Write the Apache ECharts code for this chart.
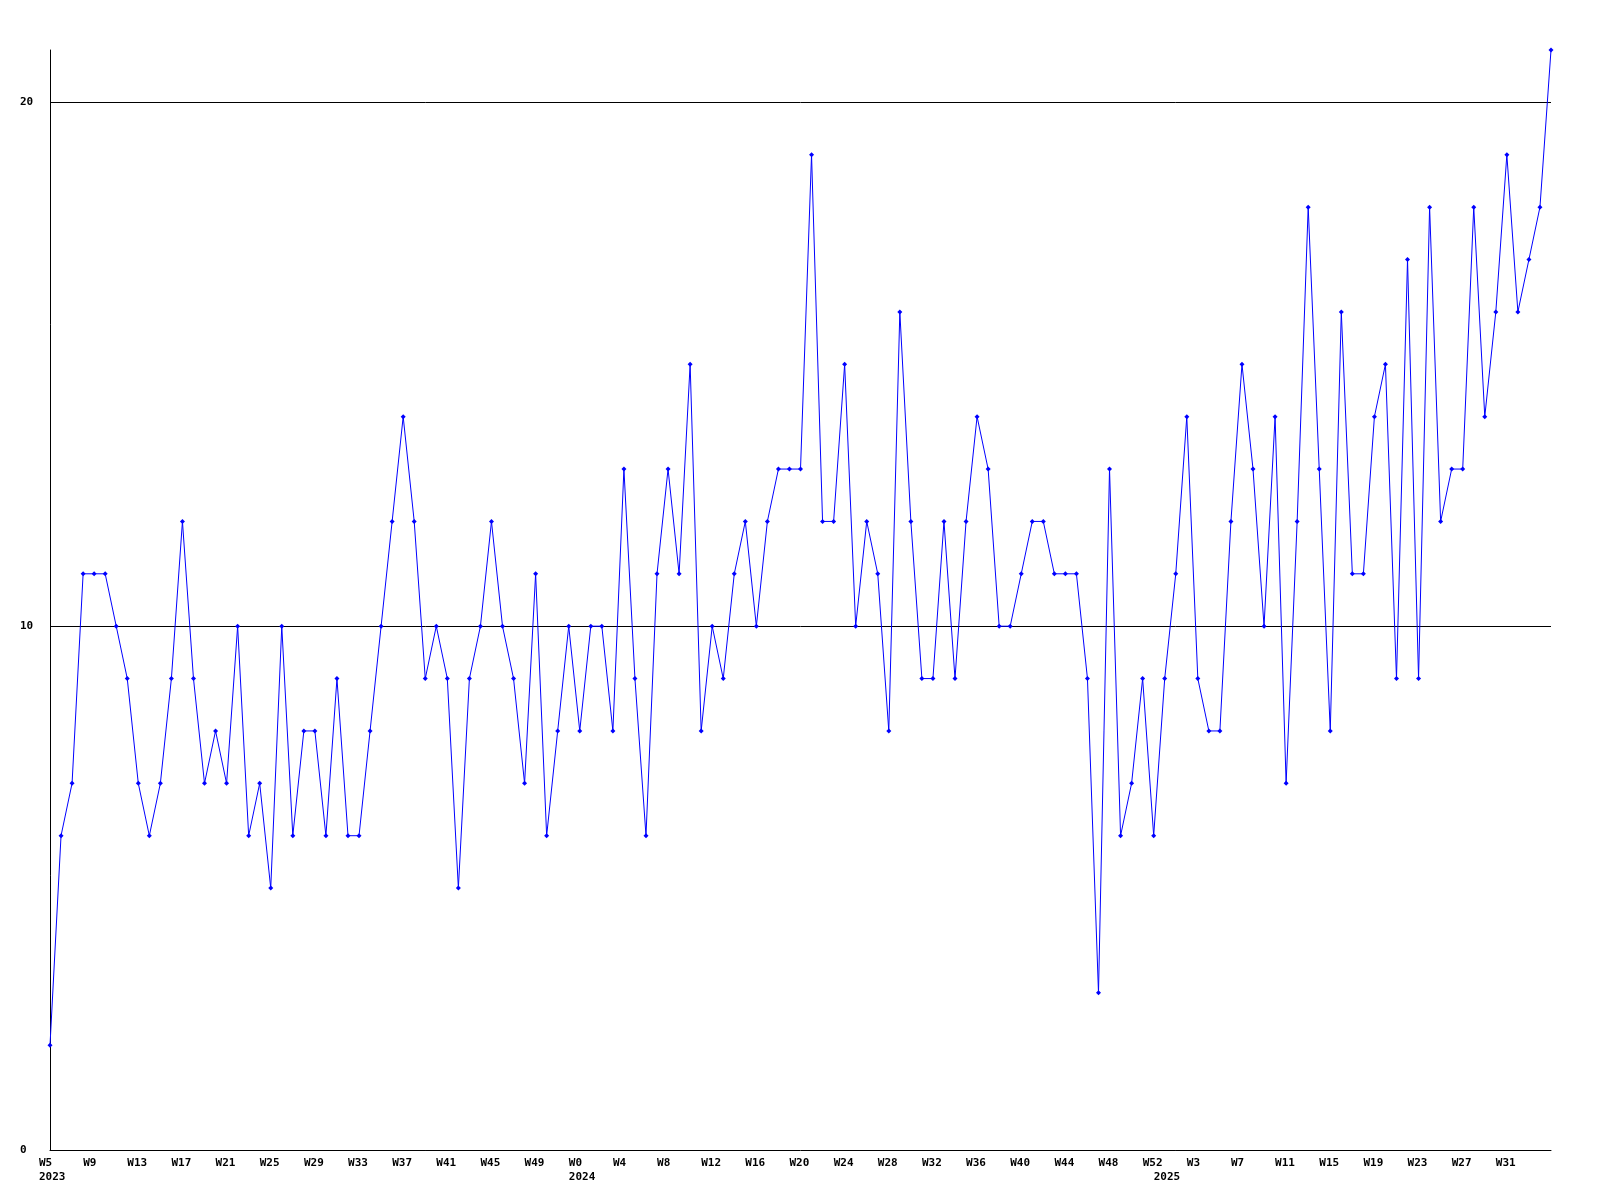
<!DOCTYPE html>
<html>
<head>
<meta charset="utf-8">
<script src="https://cdn.jsdelivr.net/npm/echarts@6/dist/echarts.min.js"></script>
<style>html,body{margin:0;padding:0;background:#fff;}#c{width:1600px;height:1200px;}</style>
</head>
<body>
<div id="c"></div>
<script>
// Week categories (year-week)
const weeks2023 = ['W5','W6','W7','W8','W9','W10','W11','W12','W13','W14','W15','W16','W17','W18','W19','W20','W21','W22','W23','W24','W25','W26','W27','W28','W29','W30','W31','W32','W33','W34','W35','W36','W37','W38','W39','W40','W41','W42','W43','W44','W45','W46','W47','W48','W49','W50','W51','W52'];
const weeks2024 = ['W0','W1','W2','W3','W4','W5','W6','W7','W8','W9','W10','W11','W12','W13','W14','W15','W16','W17','W18','W19','W20','W21','W22','W23','W24','W25','W26','W27','W28','W29','W30','W31','W32','W33','W34','W35','W36','W37','W38','W39','W40','W41','W42','W43','W44','W45','W46','W47','W48','W49','W50','W51','W52'];
const weeks2025 = ['W0','W1','W2','W3','W4','W5','W6','W7','W8','W9','W10','W11','W12','W13','W14','W15','W16','W17','W18','W19','W20','W21','W22','W23','W24','W25','W26','W27','W28','W29','W30','W31','W32','W33','W34','W35'];

// Values per week
const values2023 = [2,6,7,11,11,11,10,9,7,6,7,9,12,9,7,8,7,10,6,7,5,10,6,8,8,6,9,6,6,8,10,12,14,12,9,10,9,5,9,10,12,10,9,7,11,6,8,10];
const values2024 = [8,10,10,8,13,9,6,11,13,11,15,8,10,9,11,12,10,12,13,13,13,19,12,12,15,10,12,11,8,16,12,9,9,12,9,12,14,13,10,10,11,12,12,11,11,11,9,3,13,6,7,9,6];
const values2025 = [9,11,14,9,8,8,12,15,13,10,14,7,12,18,13,8,16,11,11,14,15,9,17,9,18,12,13,13,18,14,16,19,16,17,18,21];

const yTicks = [0, 10, 20];

const categories = [];
const years = [];
weeks2023.forEach(w => { categories.push(w); years.push('2023'); });
weeks2024.forEach(w => { categories.push(w); years.push('2024'); });
weeks2025.forEach(w => { categories.push(w); years.push('2025'); });
const values = values2023.concat(values2024, values2025);

const font = '"DejaVu Sans Mono", monospace';
const chart = echarts.init(document.getElementById('c'), null, {renderer: 'canvas'});
chart.setOption({
  animation: false,
  backgroundColor: '#ffffff',
  grid: {left: 50, right: 49, top: 50, bottom: 50, containLabel: false},
  xAxis: [{
    type: 'category',
    data: categories,
    boundaryGap: false,
    position: 'bottom',
    axisLine: {show: true, lineStyle: {color: '#000', width: 1}},
    axisTick: {show: false},
    splitLine: {show: false},
    axisLabel: {
      interval: 3,
      align: 'left',
      margin: 8,
      padding: [0, 0, 0, -11],
      showMaxLabel: false,
      fontFamily: font, fontWeight: 'bold', fontSize: 11, color: '#000'
    }
  }, {
    type: 'category',
    data: categories,
    boundaryGap: false,
    position: 'bottom',
    offset: 14,
    axisLine: {show: false},
    axisTick: {show: false},
    splitLine: {show: false},
    axisLabel: {
      interval: 0,
      align: 'left',
      margin: 8,
      padding: [0, 0, 0, -11],
      fontFamily: font, fontWeight: 'bold', fontSize: 11, color: '#000',
      formatter: function (v, i) { return (i === 0 || years[i] !== years[i - 1]) ? years[i] : ''; }
    }
  }],
  yAxis: {
    type: 'value',
    min: 0, max: 21, interval: 10,
    axisLine: {show: true, lineStyle: {color: '#000', width: 1}},
    axisTick: {show: false},
    splitLine: {show: true, showMinLine: false, showMaxLine: false, lineStyle: {color: '#000', width: 1}},
    axisLabel: {
      align: 'left', margin: 30, showMaxLabel: false,
      fontFamily: font, fontWeight: 'bold', fontSize: 11, color: '#000',
      formatter: function (v) { return yTicks.indexOf(v) >= 0 ? String(v) : ''; }
    }
  },
  series: [{
    type: 'line',
    xAxisIndex: 0,
    data: values,
    symbol: 'diamond',
    symbolSize: 5,
    showAllSymbol: true,
    lineStyle: {color: '#0000ff', width: 1},
    itemStyle: {color: '#0000ff'},
    emphasis: {disabled: true}
  }]
});
</script>
</body>
</html>
